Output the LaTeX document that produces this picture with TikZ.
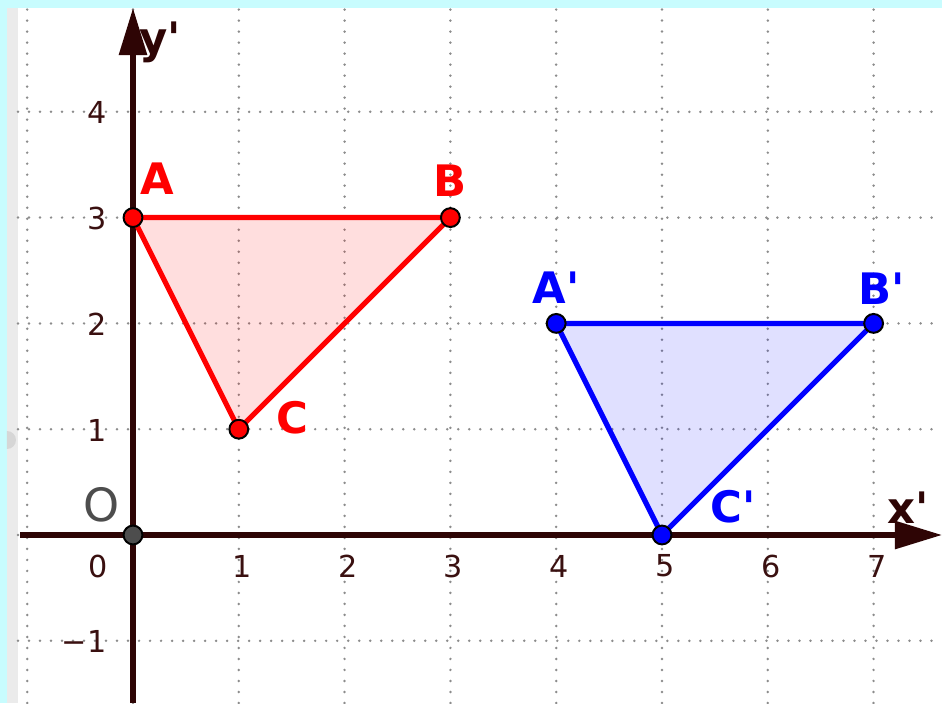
\documentclass[tikz,border=0pt]{standalone}
\usepackage{fontspec}
\newfontfamily\gfont{DejaVu Sans}
\usetikzlibrary{arrows.meta}
\definecolor{axiscol}{HTML}{2E0505}
\definecolor{ticklab}{HTML}{3A1010}
\definecolor{gridcol}{HTML}{8C8C8C}
\definecolor{cyanbg}{HTML}{C8FCFE}
\definecolor{stripgray}{HTML}{EBEBEB}
\definecolor{tabgray}{HTML}{D6D6D6}
\definecolor{ptred}{HTML}{FF0000}
\definecolor{ptblue}{HTML}{0000FF}
\definecolor{ogray}{HTML}{4D4D4D}
\begin{document}
\begin{tikzpicture}[x=1.5cm,y=1.5cm,
  gridline/.style={draw=gridcol,line width=1.1pt,line cap=round,dash pattern=on 0pt off 4.44pt},
  axisline/.style={draw=axiscol,line width=2.1pt,-{Triangle[length=19pt,width=11pt]}},
  ticklabel/.style={text=ticklab,font=\gfont\fontsize{12.2}{14}\selectfont,inner sep=0pt},
  ptlabel/.style={font=\gfont\bfseries\fontsize{17.5}{20}\selectfont,inner sep=0pt},
  olabel/.style={font=\gfont\fontsize{18.5}{20}\selectfont,inner sep=0pt},
  pt/.style={circle,draw=black,line width=0.8pt,minimum size=7.6pt,inner sep=0pt},
  redtri/.style={draw=ptred,line width=2.1pt,fill=ptred,fill opacity=0.13,draw opacity=1,line join=round},
  bluetri/.style={draw=ptblue,line width=2.1pt,fill=ptblue,fill opacity=0.12,draw opacity=1,line join=round}]
\useasboundingbox (-1.2571,-1.5879) rectangle (7.6465,5.0567);
\fill[white] (-1.2571,-1.5879) rectangle (7.6465,5.0567);
\fill[cyanbg] (-1.2571,4.981) rectangle (7.6465,5.0567);
\fill[cyanbg] (-1.2571,-1.5879) rectangle (-1.191,4.981);
\fill[stripgray] (-1.191,-1.5879) rectangle (-1.087,4.981);
\fill[tabgray] (-1.191,0.813) arc[start angle=-90,end angle=90,radius=0.085] -- cycle;
% grid
\foreach \i in {-1,...,7} \draw[gridline] (\i,-1.5879) -- (\i,4.981);
\foreach \j in {-1,...,4} \draw[gridline] (-1.087,\j) -- (7.6465,\j);
% axes
\coordinate (xs) at (-1.068,0);
\coordinate (xe) at (7.6465,0);
\coordinate (ys) at (0,-1.5879);
\coordinate (ye) at (0,4.981);
\draw[axisline] (xs) -- (xe);
\draw[axisline] (ys) -- (ye);
% points
\coordinate (a) at (0,3);
\coordinate (b) at (3,3);
\coordinate (c) at (1,1);
\coordinate (a2) at (4,2);
\coordinate (b2) at (7,2);
\coordinate (c2) at (5,0);
\draw[redtri] (a) -- (b) -- (c) -- cycle;
\draw[bluetri] (a2) -- (b2) -- (c2) -- cycle;
\node[pt,fill=ptred] (A) at (a) {};
\node[pt,fill=ptred] (B) at (b) {};
\node[pt,fill=ptred] (C) at (c) {};
\node[pt,fill=ptblue] (A2) at (a2) {};
\node[pt,fill=ptblue] (B2) at (b2) {};
\node[pt,fill=ptblue] (C2) at (c2) {};
\node[pt,fill=ogray] (O) at (0,0) {};
% point labels
\node[ptlabel,text=ptred] (lA) at (0.227,3.365) {A};
\node[ptlabel,text=ptred] (lB) at (2.996,3.346) {B};
\node[ptlabel,text=ptred] (lC) at (1.503,1.106) {C};
\node[ptlabel,text=ptblue] (lA2) at (3.998,2.335) {A'};
\node[ptlabel,text=ptblue] (lB2) at (7.08,2.325) {B'};
\node[ptlabel,text=ptblue] (lC2) at (5.671,0.265) {C'};
\node[olabel,text=ogray] (lO) at (-0.293,0.284) {O};
\node[ptlabel,text=axiscol] (ly) at (0.255,4.66) {y'};
\node[ptlabel,text=axiscol] (lx) at (7.325,0.255) {x'};
% tick labels
\node[ticklabel] (tx0) at (-0.331,-0.293) {0};
\foreach \k in {1,...,7} \node[ticklabel] (tx\k) at (\k+0.03,-0.293) {\k};
\foreach \k in {1,...,4} \node[ticklabel,anchor=east] (ty\k) at (-0.246,\k-0.01) {\k};
\node[ticklabel,anchor=east] (tym1) at (-0.246,-1.01) {−1};
\end{tikzpicture}
\end{document}
